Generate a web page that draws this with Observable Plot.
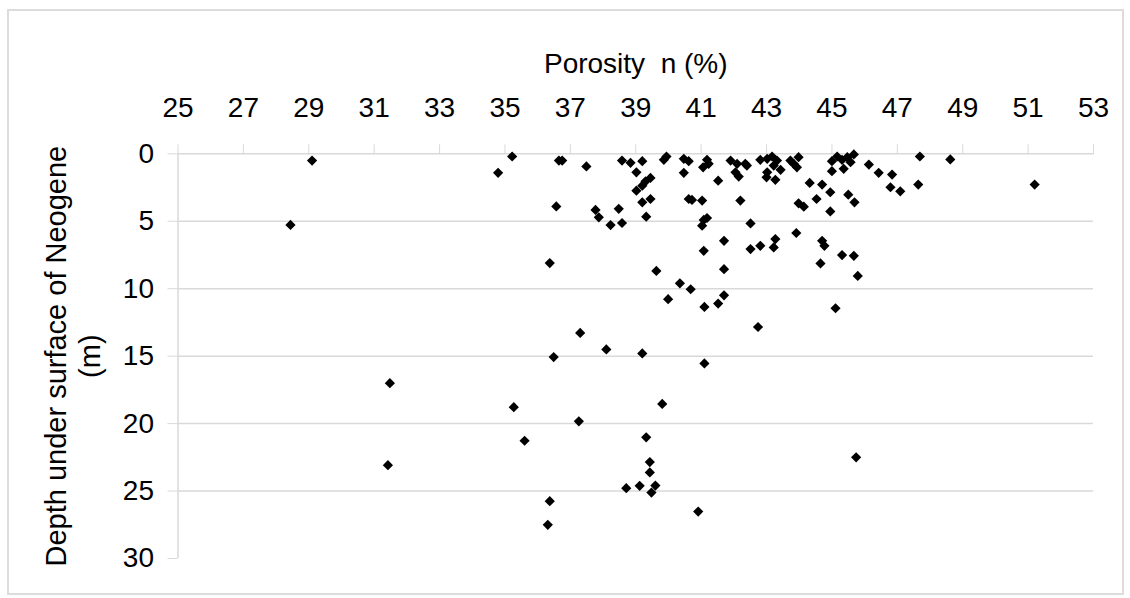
<!DOCTYPE html>
<html>
<head>
<meta charset="utf-8">
<script src="https://cdn.jsdelivr.net/npm/d3@7"></script>
<script src="https://cdn.jsdelivr.net/npm/@observablehq/plot@0.6"></script>
<style>
  html, body { margin: 0; padding: 0; background: #fff; }
  #wrap { position: relative; width: 1130px; height: 598px; }
  #border { position: absolute; left: 7px; top: 9px; width: 1113px; height: 582px; border: 2px solid #dcdcdc; pointer-events: none; }
</style>
</head>
<body>
<div id="wrap"><div id="border"></div></div>
<script>
const porosity = [
  29.1, 28.44, 34.79, 35.22, 36.65, 36.75, 36.57, 36.37, 36.49, 37.3,
  37.49, 38.58, 38.84, 39.2, 39.02, 39.86, 39.94, 40.47, 40.62, 40.47,
  41.18, 41.06, 41.23, 41.52, 41.9, 42.1, 42.35, 42.05, 42.15, 42.4,
  42.81, 43.02, 43.17, 43.32, 43.22, 43.43, 43.0, 43.27, 43.02, 43.73,
  43.98, 43.83, 43.93, 45.0, 45.16, 45.31, 45.47, 45.67, 45.57, 45.36,
  45.0, 44.32, 44.7, 44.95, 44.95, 44.53, 43.98, 44.14, 45.5, 45.69,
  42.2, 41.03, 40.62, 40.72, 42.51, 41.08, 41.03, 41.18, 41.7, 41.08,
  42.51, 42.81, 43.27, 43.22, 43.91, 44.7, 44.77, 44.65, 45.31, 45.67,
  45.79, 41.7, 39.63, 40.35, 40.68, 41.7, 39.99, 41.52, 41.1, 45.11,
  37.77, 37.87, 38.23, 38.48, 38.58, 39.2, 39.45, 39.32, 39.02, 39.2,
  39.3, 39.45, 46.13, 46.43, 46.84, 46.79, 47.09, 47.69, 47.64, 48.62,
  51.2, 42.74, 38.1, 39.2, 41.1, 39.81, 37.26, 39.32, 39.43, 39.43,
  38.71, 39.12, 39.6, 39.48, 40.91, 45.74, 31.48, 35.27, 35.6, 31.42,
  36.37, 36.31
];
const depth = [
  0.5, 5.27, 1.41, 0.2, 0.5, 0.5, 3.9, 8.1, 15.07, 13.28,
  0.94, 0.5, 0.67, 0.55, 1.37, 0.45, 0.2, 0.37, 0.55, 1.41,
  0.45, 1.0, 0.74, 1.99, 0.5, 0.74, 0.74, 1.37, 1.69, 0.87,
  0.45, 0.37, 0.2, 0.5, 0.87, 1.19, 1.74, 1.93, 1.37, 0.5,
  0.25, 0.74, 1.0, 0.55, 0.2, 0.45, 0.25, 0.05, 0.62, 1.11,
  1.29, 2.16, 2.28, 2.85, 4.27, 3.35, 3.67, 3.92, 3.03, 3.6,
  3.47, 3.47, 3.35, 3.42, 5.16, 4.9, 5.33, 4.76, 6.45, 7.19,
  7.06, 6.82, 6.32, 6.94, 5.87, 6.45, 6.82, 8.13, 7.51, 7.56,
  9.05, 8.55, 8.68, 9.6, 10.04, 10.49, 10.78, 11.1, 11.35, 11.45,
  4.16, 4.71, 5.28, 4.08, 5.13, 3.6, 3.35, 4.66, 2.73, 2.36,
  2.04, 1.79, 0.8, 1.41, 1.54, 2.48, 2.78, 0.2, 2.28, 0.42,
  2.28, 12.84, 14.5, 14.8, 15.54, 18.54, 19.83, 21.02, 22.85, 23.62,
  24.79, 24.61, 24.59, 25.11, 26.52, 22.5, 17.0, 18.78, 21.27, 23.08,
  25.75, 27.5
];
const xTicks = [25, 27, 29, 31, 33, 35, 37, 39, 41, 43, 45, 47, 49, 51, 53];
const yTicks = [0, 5, 10, 15, 20, 25, 30];
const gridTicks = [0, 5, 10, 15, 20, 25];
const xTitle = "Porosity\u00a0 n (%)";
const yTitle = "Depth under surface of Neogene\n(m)";

const data = porosity.map((p, i) => ({p, d: depth[i]}));
const grey = "#d9d9d9";

const chart = Plot.plot({
  width: 1130,
  height: 598,
  marginLeft: 177.5,
  marginRight: 37,
  marginTop: 153.3,
  marginBottom: 40,
  style: {fontFamily: "'Liberation Sans', Arial, sans-serif", fontSize: "28px", color: "#000", background: "transparent", overflow: "visible"},
  x: {domain: [25, 53]},
  y: {domain: [0, 30], reverse: true},
  marks: [
    Plot.ruleY(gridTicks, {stroke: grey, strokeWidth: 1.5}),
    Plot.ruleX([25], {y1: 0, y2: 30, stroke: grey, strokeWidth: 1.5}),
    Plot.axisX({anchor: "top", ticks: xTicks, tickSize: 10, tickPadding: 27, stroke: grey, label: null, fontSize: 28}),
    Plot.axisY({anchor: "left", ticks: yTicks, tickSize: 10, tickPadding: 14, stroke: grey, label: null, fontSize: 28}),
    Plot.dot(data, {x: "p", y: "d", symbol: "diamond2", r: 4.6, fill: "#000", stroke: "none"}),
    Plot.text([xTitle], {frameAnchor: "top", lineAnchor: "middle", textAnchor: "middle", dy: -90, fontSize: 28, fill: "#000"}),
    Plot.text([yTitle], {frameAnchor: "left", lineAnchor: "middle", textAnchor: "middle", rotate: -90, dx: -106, dy: 0, fontSize: 29, lineHeight: 1.17, fill: "#000"})
  ]
});
document.getElementById("wrap").prepend(chart);
</script>
</body>
</html>
